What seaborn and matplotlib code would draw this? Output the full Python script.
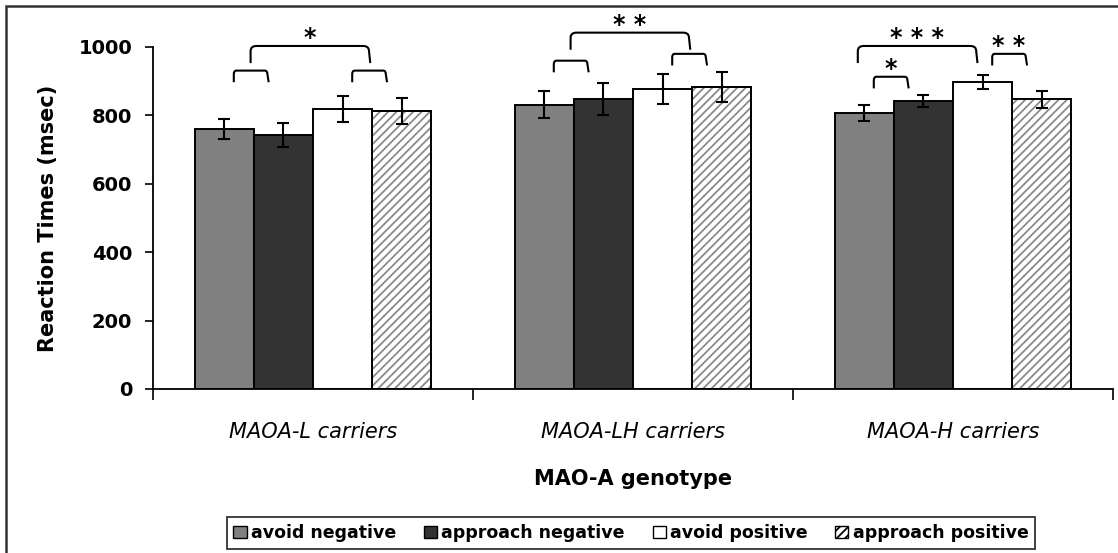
import matplotlib
matplotlib.use("Agg")
import matplotlib.pyplot as plt
from matplotlib.patches import Rectangle
from matplotlib.path import Path
from matplotlib.patches import PathPatch
import seaborn as sns
import pandas as pd
import numpy as np

# ---------------- data ----------------
genotypes = ["MAOA-L carriers", "MAOA-LH carriers", "MAOA-H carriers"]
conditions = ["avoid negative", "approach negative", "avoid positive", "approach positive"]
avoid_neg = [760, 831, 806]
approach_neg = [743, 848, 843]
avoid_pos = [819, 877, 897]
approach_pos = [813, 883, 847]
avoid_neg_err = [29, 39, 23]
approach_neg_err = [35, 48, 18]
avoid_pos_err = [37, 44, 20]
approach_pos_err = [37, 44, 24]
y_ticks = [0, 200, 400, 600, 800, 1000]
# significance brackets: (group index, bar i, bar j, level, label)
small_brackets = [
    (0, 0, 1, 931, ""), (0, 2, 3, 931, ""),
    (1, 0, 1, 960, ""), (1, 2, 3, 980, ""),
    (2, 0, 1, 913, "*"), (2, 2, 3, 980, "* *"),
]
# big brackets: (group, left bars, right bars, level, label)
big_brackets = [
    (0, (0, 1), (2, 3), 1003, "*"),
    (1, (0, 1), (2, 3), 1042, "* *"),
    (2, (0,), (2,), 1003, "* * *"),
]

values = [avoid_neg, approach_neg, avoid_pos, approach_pos]
errors = [avoid_neg_err, approach_neg_err, avoid_pos_err, approach_pos_err]
rows = []
for c, vals in zip(conditions, values):
    for g, v in zip(genotypes, vals):
        rows.append({"genotype": g, "condition": c, "rt": v})
df = pd.DataFrame(rows)

# ---------------- style ----------------
sns.set_theme(style="white")
plt.rcParams["font.family"] = ["DejaVu Sans"]
plt.rcParams["hatch.linewidth"] = 1.3
for key in ["text.color", "axes.labelcolor", "xtick.color", "ytick.color"]:
    plt.rcParams[key] = "black"

fig = plt.figure(figsize=(11.18, 5.53), dpi=100)
ax = fig.add_axes([153 / 1118, 164 / 553, 960 / 1118, 342 / 553])

palette = ["#808080", "#333333", "#ffffff", "#ffffff"]
sns.barplot(data=df, x="genotype", y="rt", hue="condition", order=genotypes,
            hue_order=conditions, palette=palette, width=0.74, errorbar=None,
            edgecolor="black", linewidth=1.4, ax=ax, saturation=1)

bar_containers = list(ax.containers)
centers = []
for k, cont in enumerate(bar_containers):
    xs = [p.get_x() + p.get_width() / 2 for p in cont.patches]
    centers.append(xs)
    hs = [p.get_height() for p in cont.patches]
    if k == 3:
        for p in cont.patches:
            p.set_hatch("////")
            p.set_edgecolor("#8a8a8a")
            outline = Rectangle((p.get_x(), p.get_y()), p.get_width(), p.get_height(),
                                fill=False, edgecolor="black", linewidth=1.4, zorder=p.get_zorder() + 0.1)
            ax.add_patch(outline)
    ax.errorbar(xs, hs, yerr=errors[k], fmt="none", ecolor="black",
                elinewidth=1.5, capsize=4.3, capthick=1.5, zorder=5)

def bar_x(g, i):
    return centers[i][g]

def bracket(x0, x1, top, drop, curve):
    r = (x1 - x0) * curve
    verts = [(x0, top - drop), (x0, top - drop * 0.3), (x0, top), (x0 + r, top),
             (x1 - r, top), (x1, top), (x1, top - drop * 0.3), (x1 + 0.004, top - drop)]
    codes = [Path.MOVETO, Path.LINETO, Path.CURVE3, Path.CURVE3,
             Path.LINETO, Path.CURVE3, Path.CURVE3, Path.LINETO]
    ax.add_patch(PathPatch(Path(verts, codes), fill=False, edgecolor="black",
                           lw=1.5, clip_on=False, zorder=6))

# small brackets
for g, i, j, lvl, lab in small_brackets:
    x0 = bar_x(g, i) + 0.03
    x1 = bar_x(g, j) - 0.05
    bracket(x0, x1, lvl, 34, 0.08)
    if lab:
        ax.text((x0 + x1) / 2, lvl - 13, lab, ha="center", va="bottom",
                fontsize=17, fontweight="bold", clip_on=False)

# big brackets
for g, left, right, lvl, lab in big_brackets:
    if len(left) == 2:
        xl = (bar_x(g, left[0]) + 0.03 + bar_x(g, left[1]) - 0.05) / 2
        xr = (bar_x(g, right[0]) + 0.03 + bar_x(g, right[1]) - 0.05) / 2
    else:
        xl = bar_x(g, left[0]) - 0.02
        xr = bar_x(g, right[0]) - 0.02
    bracket(xl, xr, lvl, 50, 0.05)
    ax.text((xl + xr) / 2, lvl - 13, lab, ha="center", va="bottom",
            fontsize=17, fontweight="bold", clip_on=False)

# axes styling
ax.set_ylim(0, 1000)
ax.set_xlim(-0.5, 2.5)
ax.set_yticks(y_ticks)
ax.set_yticklabels([str(t) for t in y_ticks], fontsize=14, fontweight="bold")
ax.tick_params(axis="y", direction="out", length=6, width=1.2, pad=9, left=True, color="black")
ax.set_xticks([-0.5, 0.5, 1.5, 2.5])
ax.set_xticklabels([])
ax.set_xticks([0, 1, 2], minor=True)
ax.set_xticklabels(genotypes, minor=True, fontsize=15, fontstyle="italic")
ax.tick_params(axis="x", which="major", direction="out", length=8, width=1.2, bottom=True, color="black")
ax.tick_params(axis="x", which="minor", length=0, pad=24)
for s in ["top", "right"]:
    ax.spines[s].set_visible(False)
for s in ["left", "bottom"]:
    ax.spines[s].set_color("black")
    ax.spines[s].set_linewidth(1.3)

ax.set_ylabel("Reaction Times (msec)", fontsize=15, fontweight="bold", labelpad=15)
ax.set_xlabel("MAO-A genotype", fontsize=15, fontweight="bold", labelpad=19)

leg = ax.legend(loc="center", bbox_to_anchor=(631 / 1118, 1 - 533 / 553),
                bbox_transform=fig.transFigure, ncol=4, frameon=True,
                fancybox=False, edgecolor="black", handlelength=0.75,
                handleheight=0.75, handletextpad=0.25, columnspacing=1.6,
                borderpad=0.4, prop={"weight": "bold", "size": 12.5})
leg.get_frame().set_linewidth(1.3)
for k, h in enumerate(leg.legend_handles):
    h.set_edgecolor("black")
    h.set_linewidth(1.0)
    if k == 3:
        h.set_hatch("////")

# figure frame
fig.patches.append(Rectangle((6 / 1118, -0.02), 1.1, 1 - 6 / 553 + 0.02,
                             transform=fig.transFigure, fill=False,
                             edgecolor="#333333", linewidth=1.8))

fig.savefig("out.png", dpi=100, facecolor="white")
